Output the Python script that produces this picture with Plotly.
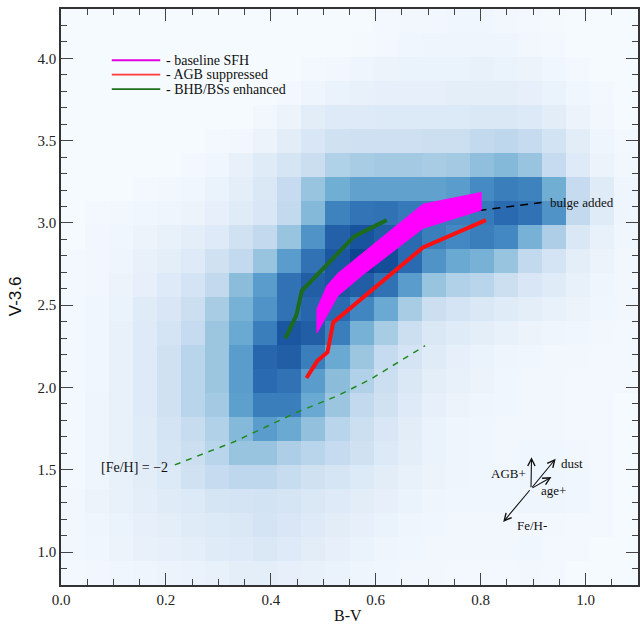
import plotly.graph_objects as go

# ---------------- data ----------------
bv_edges_min, bv_edges_max = 0.0, 1.1
vi_min, vi_max = 0.8, 4.3
n_bins = 24

# density grid, rows listed from TOP (V-3.6 ~4.3) to BOTTOM (~0.8), columns B-V 0 -> 1.1
density_rows_top_down = [
    [0.1,0.1,0.1,0.1,0.1,0.1,0.1,0.1,0.1,0.1,0.1,0.1,0.1,0.2,0.3,0.3,0.35,0.35,0.3,0.2,0.15,0.1,0.1,0.1],
    [0.1,0.1,0.1,0.1,0.1,0.1,0.1,0.1,0.1,0.1,0.1,0.1,0.15,0.25,0.4,0.5,0.5,0.5,0.45,0.3,0.2,0.1,0.1,0.1],
    [0.1,0.1,0.1,0.1,0.1,0.1,0.1,0.1,0.1,0.1,0.2,0.3,0.5,0.6,0.7,0.7,0.7,0.8,0.7,0.6,0.4,0.2,0.1,0.1],
    [0.1,0.1,0.1,0.1,0.1,0.1,0.1,0.1,0.1,0.2,0.5,0.7,0.8,0.9,0.9,0.9,1.0,1.0,1.0,0.9,0.7,0.4,0.2,0.1],
    [0.1,0.1,0.1,0.1,0.1,0.1,0.1,0.1,0.3,0.6,1.1,1.3,1.3,1.4,1.4,1.4,1.4,1.5,1.5,1.4,1.1,0.6,0.3,0.1],
    [0.1,0.1,0.1,0.1,0.1,0.1,0.2,0.3,0.6,1.1,1.6,2.0,2.1,2.1,2.1,2.2,2.2,2.6,2.7,2.5,1.9,1.1,0.5,0.2],
    [0.1,0.1,0.1,0.1,0.1,0.2,0.4,0.8,1.2,1.7,2.3,3.0,3.2,3.3,3.3,3.2,3.3,3.9,4.2,3.6,2.5,1.3,0.6,0.3],
    [0.1,0.1,0.1,0.2,0.3,0.4,0.7,1.0,1.5,2.5,3.6,4.8,5.4,5.4,5.4,5.4,5.6,6.4,7.0,6.8,4.8,2.5,1.2,0.5],
    [0.1,0.2,0.3,0.4,0.5,0.6,0.9,1.2,1.6,2.6,4.2,6.8,7.5,7.6,7.2,7.0,7.0,7.2,8.0,7.6,6.0,2.6,1.2,0.5],
    [0.1,0.3,0.4,0.6,0.8,1.0,1.3,2.0,2.6,3.6,6.0,8.5,9.2,8.6,8.0,7.0,6.5,7.0,6.5,4.6,3.1,1.5,0.8,0.4],
    [0.2,0.3,0.5,0.8,1.0,1.3,2.0,2.6,3.6,5.6,7.6,9.0,10.0,9.5,8.0,6.0,5.0,4.6,3.6,2.6,1.8,1.0,0.6,0.3],
    [0.2,0.3,0.6,0.9,1.3,1.8,2.6,4.0,5.6,7.6,8.6,9.0,8.6,7.6,5.6,3.6,3.0,2.8,2.2,1.6,1.2,0.8,0.5,0.3],
    [0.2,0.4,0.7,1.2,1.6,2.2,3.2,4.6,6.0,7.6,8.2,8.0,6.6,5.0,3.2,2.2,1.8,1.5,1.2,1.0,0.8,0.6,0.4,0.3],
    [0.2,0.4,0.8,1.3,1.8,2.5,3.5,5.0,7.0,9.0,8.6,7.0,4.6,3.2,2.2,1.5,1.2,1.0,0.8,0.6,0.5,0.4,0.3,0.2],
    [0.2,0.4,0.8,1.3,2.0,2.8,3.5,5.6,8.2,8.6,7.0,5.0,3.5,2.5,1.8,1.2,0.9,0.7,0.5,0.4,0.3,0.3,0.2,0.2],
    [0.2,0.4,0.8,1.3,2.0,2.8,3.5,5.6,8.0,7.6,5.6,4.0,3.0,2.2,1.5,1.0,0.8,0.6,0.4,0.3,0.3,0.2,0.2,0.2],
    [0.2,0.5,0.8,1.3,2.0,2.8,3.3,5.5,7.0,7.0,5.0,3.5,2.6,2.0,1.3,0.9,0.6,0.5,0.4,0.3,0.3,0.2,0.2,0.1],
    [0.2,0.5,0.8,1.2,1.8,2.4,3.0,4.2,5.6,5.0,3.8,2.8,2.2,1.6,1.1,0.7,0.5,0.4,0.3,0.3,0.3,0.2,0.2,0.1],
    [0.2,0.5,0.8,1.2,1.7,2.2,2.8,3.6,3.6,3.1,2.8,2.5,2.0,1.4,1.0,0.7,0.5,0.4,0.3,0.4,0.4,0.3,0.2,0.1],
    [0.2,0.5,0.8,1.1,1.4,2.0,2.5,2.7,2.7,2.4,2.0,1.7,1.4,1.1,0.8,0.6,0.5,0.4,0.4,0.5,0.5,0.4,0.2,0.1],
    [0.3,0.6,0.8,1.0,1.2,1.4,1.7,1.8,1.9,1.7,1.5,1.3,1.1,0.9,0.7,0.5,0.4,0.4,0.4,0.5,0.5,0.4,0.2,0.1],
    [0.3,0.5,0.7,0.9,1.0,1.2,1.4,1.5,1.8,1.6,1.3,1.1,0.9,0.7,0.5,0.4,0.3,0.3,0.3,0.3,0.3,0.2,0.2,0.1],
    [0.3,0.4,0.6,0.8,0.9,1.0,1.2,1.3,1.5,1.3,1.1,0.9,0.7,0.5,0.4,0.3,0.3,0.3,0.3,0.4,0.2,0.2,0.1,0.1],
    [0.2,0.3,0.4,0.5,0.6,0.7,0.8,1.0,1.0,0.9,0.8,0.7,0.5,0.4,0.3,0.3,0.2,0.2,0.2,0.3,0.2,0.1,0.1,0.1],
]

# baseline SFH band (polygon outline)
baseline_bv = [0.488, 0.507, 0.528, 0.690, 0.801, 0.801, 0.690, 0.577, 0.528, 0.488, 0.488]
baseline_v36 = [2.477, 2.618, 2.694, 3.114, 3.185, 3.078, 2.967, 2.689, 2.558, 2.331, 2.477]

# AGB suppressed
agb_bv = [0.468, 0.489, 0.508, 0.519, 0.690, 0.810]
agb_v36 = [2.058, 2.163, 2.214, 2.396, 2.851, 3.017]

# BHB/BSs enhanced
bhb_bv = [0.428, 0.449, 0.459, 0.517, 0.559, 0.621]
bhb_v36 = [2.299, 2.441, 2.588, 2.780, 2.918, 3.017]

# bulge added (dashed)
bulge_bv = [0.690, 0.916]
bulge_v36 = [3.033, 3.124]

# [Fe/H] = -2 track (dashed)
feh_bv = [0.217, 0.33, 0.45, 0.528, 0.591, 0.694]
feh_v36 = [1.530, 1.67, 1.85, 1.951, 2.052, 2.254]

# vector diagram: origin and arrow tips (B-V, V-3.6)
vec_origin = (0.896, 1.385)
vec_tips = {
    "AGB+": (0.897, 1.577),
    "dust": (0.943, 1.567),
    "age+": (0.935, 1.456),
    "Fe/H-": (0.843, 1.183),
}
vec_label_pos = {
    "AGB+": (0.890, 1.476, "right"),
    "dust": (0.950, 1.538, "left"),
    "age+": (0.912, 1.375, "left"),
    "Fe/H-": (0.866, 1.160, "left"),
}

legend_labels = ["- baseline SFH", "- AGB suppressed", "- BHB/BSs enhanced"]
legend_colors = ["#e000e0", "#ff3b3b", "#1f6e1f"]

# ---------------- figure ----------------
dx = (bv_edges_max - bv_edges_min) / n_bins
dy = (vi_max - vi_min) / n_bins
x_centers = [bv_edges_min + (i + 0.5) * dx for i in range(n_bins)]
y_centers = [vi_min + (j + 0.5) * dy for j in range(n_bins)]
z = density_rows_top_down[::-1]

SERIF = "Liberation Serif, Times New Roman, serif"

density_colorscale = [
    [0.00, "#f7fbff"],
    [0.10, "#e4eef9"],
    [0.25, "#c6dbef"],
    [0.35, "#9cc6e0"],
    [0.50, "#6aaad2"],
    [0.65, "#4388c2"],
    [0.80, "#2a6ab0"],
    [0.90, "#1b56a0"],
    [1.00, "#0e4590"],
]

fig = go.Figure()
fig.add_trace(go.Heatmap(
    x=x_centers, y=y_centers, z=z,
    colorscale=density_colorscale, zmin=0, zmax=10, showscale=False, zsmooth=False,
    hoverinfo="skip",
))

fig.add_trace(go.Scatter(
    x=feh_bv, y=feh_v36, mode="lines",
    line=dict(color="#1f8a1f", width=1.5, dash="6px,6px"), showlegend=False,
))
fig.add_trace(go.Scatter(
    x=bulge_bv, y=bulge_v36, mode="lines",
    line=dict(color="black", width=1.6, dash="8px,6px"), showlegend=False,
))
fig.add_trace(go.Scatter(
    x=baseline_bv, y=baseline_v36, mode="lines", fill="toself",
    fillcolor="#ff00ff", line=dict(color="#ff00ff", width=1), showlegend=False,
))
fig.add_trace(go.Scatter(
    x=agb_bv, y=agb_v36, mode="lines",
    line=dict(color="#ff1010", width=4), showlegend=False,
))
fig.add_trace(go.Scatter(
    x=bhb_bv, y=bhb_v36, mode="lines",
    line=dict(color="#1d6b1d", width=4), showlegend=False,
))

annotations = []
# vector arrows
for name, (tx, ty) in vec_tips.items():
    annotations.append(dict(
        x=tx, y=ty, ax=vec_origin[0], ay=vec_origin[1],
        xref="x", yref="y", axref="x", ayref="y",
        text="", showarrow=True, arrowhead=5, arrowsize=1.3,
        arrowwidth=1.1, arrowcolor="#111",
    ))
for name, (lx, ly, anc) in vec_label_pos.items():
    annotations.append(dict(x=lx, y=ly, text=name, xanchor=anc, yanchor="middle"))
annotations += [
    dict(x=0.928, y=3.124, text="bulge added", xanchor="left", yanchor="middle"),
    dict(x=0.207, y=1.515, text="[Fe/H] = \u22122", xanchor="right", yanchor="middle",
         font=dict(family=SERIF, size=14, color="#111")),
]
for a in annotations:
    a.setdefault("xref", "x")
    a.setdefault("yref", "y")
    a.setdefault("showarrow", False)
    a.setdefault("font", dict(family=SERIF, size=13, color="#111"))

# legend (manual)
shapes = []
legend_y = [0.911, 0.886, 0.861]
for lab, col, ly in zip(legend_labels, legend_colors, legend_y):
    shapes.append(dict(type="line", xref="paper", yref="paper",
                       x0=0.088, x1=0.172, y0=ly, y1=ly,
                       line=dict(color=col, width=1.8)))
    annotations.append(dict(xref="paper", yref="paper", x=0.179, y=ly,
                            text=lab, showarrow=False, xanchor="left", yanchor="middle",
                            font=dict(family=SERIF, size=14, color="#111")))

# axis titles (placed explicitly)
annotations.append(dict(xref="paper", yref="paper", x=0.498, y=-0.053, text="B-V",
                        showarrow=False, xanchor="center", yanchor="middle",
                        font=dict(family=SERIF, size=16, color="#111")))
annotations.append(dict(xref="paper", yref="paper", x=-0.079, y=0.502, text="V-3.6",
                        showarrow=False, xanchor="center", yanchor="middle", textangle=-90,
                        font=dict(family="Liberation Sans, Arial, sans-serif", size=17, color="#111")))

axis_common = dict(
    showgrid=False, zeroline=False, automargin=False,
    showline=True, linecolor="#333", linewidth=1.5, mirror="allticks",
    ticks="inside", ticklen=12, tickwidth=1.2, tickcolor="#444",
    tickfont=dict(family=SERIF, size=15, color="#222"),
)

fig.update_layout(
    width=643, height=626,
    margin=dict(l=61, r=5, t=9, b=41),
    paper_bgcolor="white", plot_bgcolor="#f7fbff",
    xaxis=dict(range=[bv_edges_min, bv_edges_max], dtick=0.2, tick0=0,
               tickformat=".1f",
               minor=dict(dtick=0.05, ticks="inside", ticklen=6, tickcolor="#444", tickwidth=1.2, showgrid=False),
               **axis_common),
    yaxis=dict(range=[vi_min, vi_max], dtick=0.5, tick0=0,
               tickformat=".1f",
               minor=dict(dtick=0.1, ticks="inside", ticklen=6, tickcolor="#444", tickwidth=1.2, showgrid=False),
               **axis_common),
    shapes=shapes,
    annotations=annotations,
    showlegend=False,
)

fig.write_html("out.html")
